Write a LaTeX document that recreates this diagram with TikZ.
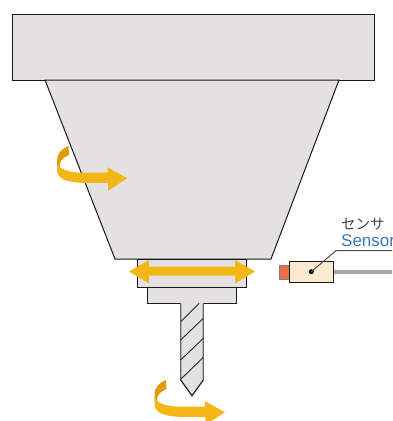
\documentclass[tikz,border=0pt]{standalone}
\usepackage{fontspec}
\setmainfont{Liberation Sans}
\newfontfamily\cjk{Noto Sans CJK JP}
\definecolor{bodygray}{RGB}{227,225,226}
\definecolor{arrowy}{RGB}{242,183,23}
\definecolor{arrowd}{RGB}{224,155,10}
\definecolor{sensorbg}{RGB}{253,234,208}
\definecolor{sensorred}{RGB}{238,109,70}
\definecolor{cablegray}{RGB}{165,168,165}
\definecolor{sensorblue}{RGB}{62,115,185}
\tikzset{
  part/.style={draw=black!90,fill=bodygray,line width=1pt,line join=miter},
  bit/.style={draw=black!60,fill=bodygray,line width=1.2pt},
  hatchline/.style={draw=black!85,line width=0.9pt},
  yel/.style={fill=arrowy,draw=none},
  dark/.style={fill=arrowd,draw=none},
  label/.style={inner sep=0pt,anchor=base west}
}
\begin{document}
\begin{tikzpicture}[x=1pt,y=-1pt]
\useasboundingbox (0,0) rectangle (392,421);
\clip (0,0) rectangle (392,421);
% head
\draw[part] (12,14) rectangle (374,80);
\draw[part] (45,80) -- (339,80) -- (271,259) -- (115,259) -- cycle;
% collars
\draw[part] (137.5,259) rectangle (246.7,287);
\draw[part] (147.7,287) rectangle (236.7,303);
% drill bit
\draw[bit] (180.7,303) -- (180.7,380) -- (192,395.7) -- (203.3,380) -- (203.3,303);
\draw[hatchline] (180.7,380) -- (192,395.7) -- (203.3,380);
\draw[hatchline] (180.7,321.7) -- (199.3,303.3);
\draw[hatchline] (180.7,340) -- (203.3,318.3);
\draw[hatchline] (180.7,360) -- (203.3,338.3);
\draw[hatchline] (180.7,379.3) -- (203.3,357.3);
% double arrow
\fill[yel] (129,271.5) -- (149,260) -- (149,266.7) -- (235,266.7) -- (235,260) -- (255,271.5) -- (235,283.3) -- (235,275.5) -- (149,275.5) -- (149,283.3) -- cycle;
% rotation arrows
\foreach \dx/\dy in {0/0,97.5/234}{
\begin{scope}[shift={(\dx,\dy)}]
\fill[dark] (68.5,146) .. controls (61,149) and (57,154) .. (57,161) -- (57,168) -- (60,168)
  .. controls (58.5,162) and (62,158) .. (69,155) -- cycle;
\fill[yel] (57,164) .. controls (60,169) and (68,172.7) .. (84,172.7) -- (107.7,172.7) -- (107.7,167.3) -- (127.3,178.3) -- (108.3,190.7) -- (107.7,182.8)
  -- (90,183) .. controls (72,183) and (57,181) .. (57,170) -- cycle;
\end{scope}}
% sensor
\draw[draw=cablegray,fill=cablegray] (333,270) rectangle (392,273.5);
\draw[draw=black!50,fill=sensorred,line width=0.8pt] (279.3,265) rectangle (289.3,279);
\node[draw=black!90,fill=sensorbg,line width=0.9pt,minimum width=44pt,minimum height=20.7pt,inner sep=0pt] (sensorbox) at (311.3,271.6) {};
\node[circle,fill=black,inner sep=0pt,minimum size=5pt] (sensordot) at (311.3,271.7) {};
\coordinate (leadbend) at (336,250.7);
\coordinate (leadend) at (392,250.7);
\draw[draw=black!70,line width=1pt] (sensordot.center) -- (leadbend) -- (leadend);
\node[label,font=\cjk\fontsize{14.5}{15}\selectfont,text=black!75] (sensorjp) at (341,229.5) {センサ};
\node[label,font=\fontsize{17}{18}\selectfont,text=sensorblue] (sensoren) at (341,246) {Sensor};
\end{tikzpicture}
\end{document}
